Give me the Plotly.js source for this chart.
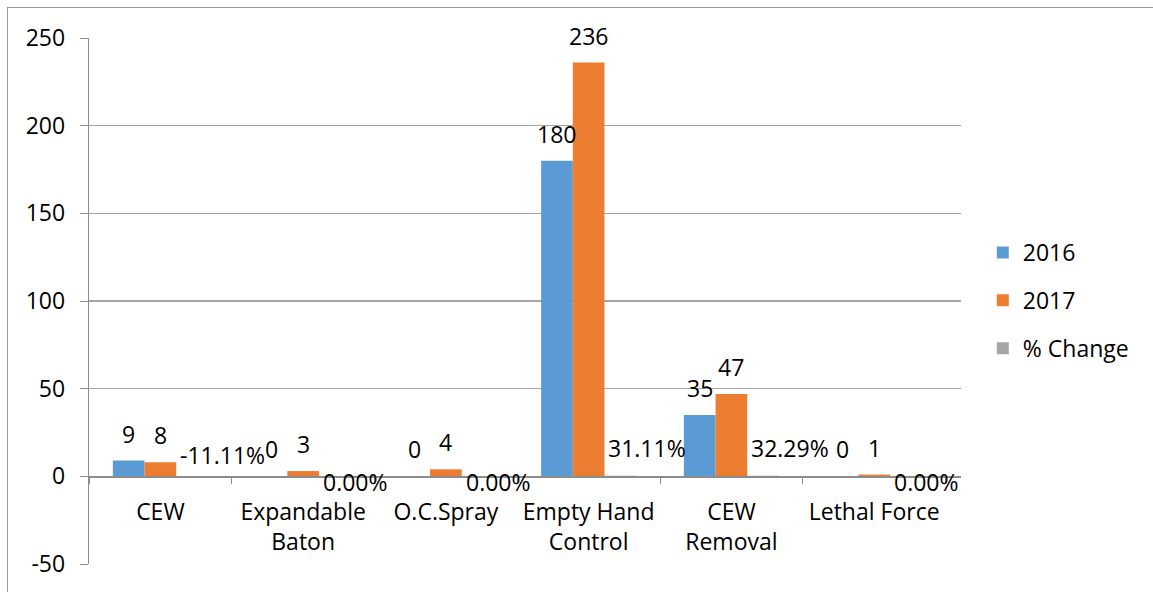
<!DOCTYPE html>
<html>
<head>
<meta charset="utf-8">
<script src="https://cdn.plot.ly/plotly-3.0.1.min.js"></script>
<style>
  html, body { margin: 0; padding: 0; background: #ffffff; }
  #wrap { position: relative; width: 1153px; height: 592px; overflow: hidden; }
  #frame { position: absolute; left: 7px; top: 7px; width: 1200px; height: 650px;
           border-left: 1px solid #9a9a9a; border-top: 1px solid #9a9a9a; pointer-events: none; }
  #chart { position: absolute; left: 0; top: 0; width: 1153px; height: 592px; }
</style>
</head>
<body>
<div id="wrap">
  <div id="chart"></div>
  <div id="frame"></div>
</div>
<script>
// ---- data ----
const categories = ['CEW', 'Expandable<br>Baton', 'O.C.Spray', 'Empty Hand<br>Control', 'CEW<br>Removal', 'Lethal Force'];
const values2016 = [9, 0, 0, 180, 35, 0];
const values2017 = [8, 3, 4, 236, 47, 1];
const pctChange = [-0.1111, 0, 0, 0.3111, 0.3229, 0];
const seriesNames = ['2016', '2017', '% Change'];
const yTicks = [-50, 0, 50, 100, 150, 200, 250];

// ---- style ----
const colors = ['#5b9bd5', '#ed7d31', '#a5a5a5'];
const FONT = 'Open Sans, sans-serif';
const FS = 23;
const bargap = 0.334;
const w = (1 - bargap) / 3;

const traces = [values2016, values2017, pctChange].map((vals, s) => ({
  type: 'bar',
  name: seriesNames[s],
  x: categories,
  y: vals,
  marker: { color: colors[s] },
  legendgroup: 'g' + s,
  hoverinfo: 'skip'
}));

const annotations = [];
[values2016, values2017].forEach((vals, s) => {
  vals.forEach((v, i) => {
    annotations.push({
      xref: 'x', yref: 'y', x: i + (s - 1) * w, y: v,
      text: String(v), showarrow: false,
      xanchor: 'center', yanchor: 'middle', yshift: 27,
      font: { family: FONT, size: FS, color: '#000' }
    });
  });
});
pctChange.forEach((v, i) => {
  annotations.push({
    xref: 'x', yref: 'y', x: i + w / 2, y: v,
    text: (v * 100).toFixed(2) + '%', showarrow: false,
    xanchor: 'left', yanchor: 'middle', xshift: 2,
    yshift: v > 0 ? 28 : (v < 0 ? 22 : -6),
    font: { family: FONT, size: FS, color: '#000' }
  });
});

const layout = {
  width: 1153, height: 592,
  margin: { l: 89, r: 192, t: 38, b: 28, pad: 0 },
  paper_bgcolor: 'rgba(0,0,0,0)',
  plot_bgcolor: 'rgba(0,0,0,0)',
  font: { family: FONT, size: FS, color: '#000' },
  barmode: 'group', bargap: bargap, bargroupgap: 0,
  showlegend: true,
  legend: {
    x: 1.025, xanchor: 'left', y: 0.501, yanchor: 'middle',
    traceorder: 'grouped', tracegroupgap: 15,
    font: { family: FONT, size: FS, color: '#000' },
    bgcolor: 'rgba(0,0,0,0)'
  },
  xaxis: {
    type: 'category',
    anchor: 'free', position: (0 - (-50)) / 300,
    showline: true, linecolor: '#8c8c8c', linewidth: 1.3,
    ticks: 'outside', tickson: 'boundaries', ticklen: 6, tickcolor: '#8c8c8c',
    showgrid: false, zeroline: false,
    tickfont: { family: FONT, size: FS, color: '#000' },
    ticklabelstandoff: 15,
    fixedrange: true
  },
  yaxis: {
    range: [-50, 250], tickvals: yTicks, ticktext: yTicks.map(String),
    showline: true, linecolor: '#8c8c8c', linewidth: 1.3,
    ticks: 'outside', ticklen: 8, tickcolor: '#8c8c8c',
    showgrid: true, gridcolor: '#a6a6a6', gridwidth: 1.2,
    zeroline: false,
    tickfont: { family: FONT, size: FS, color: '#000' },
    ticklabelstandoff: 10,
    fixedrange: true
  },
  annotations: annotations
};

Plotly.newPlot('chart', traces, layout, { displayModeBar: false, staticPlot: true });
</script>
</body>
</html>
